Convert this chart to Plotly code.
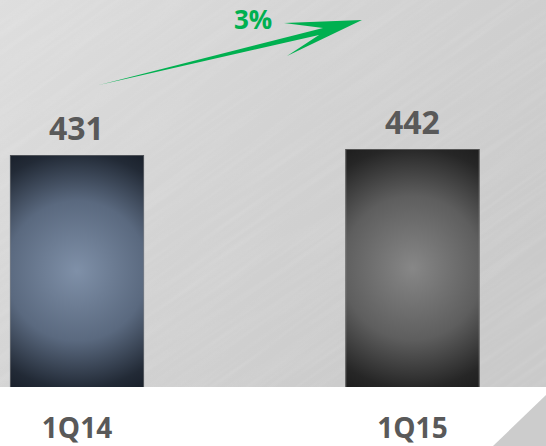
import base64
import plotly.graph_objects as go

# Quarterly figures
quarters = ["1Q14", "1Q15"]
values = [431, 442]
bar_centers = ["#7f90a8", "#878787"]
bar_edges = ["#161c26", "#1b1b1b"]
bar_mids = ["#5a697f", "#5e5e5e"]
bar_dark = ["#222a36", "#262626"]

growth = (values[1] - values[0]) / values[0]
growth_text = f"{growth:.0%}"

W, H = 546, 446
BOTTOM = 59
BAR_W = 0.4


def svg_uri(svg):
    return "data:image/svg+xml;base64," + base64.b64encode(svg.encode()).decode()


# Brushed-metal backdrop for the plotting area
metal = svg_uri(f"""<svg xmlns='http://www.w3.org/2000/svg' width='{W}' height='{H - BOTTOM}' viewBox='0 0 {W} {H - BOTTOM}' preserveAspectRatio='none'>
<defs>
<linearGradient id='g' x1='0' y1='0' x2='1' y2='0.6'>
<stop offset='0' stop-color='#dedede'/><stop offset='0.5' stop-color='#d3d3d3'/><stop offset='1' stop-color='#cacaca'/>
</linearGradient>
<filter id='f' x='0' y='0' width='100%' height='100%'>
<feTurbulence type='fractalNoise' baseFrequency='0.008 0.2' numOctaves='2' seed='3'/>
<feColorMatrix type='matrix' values='0 0 0 0 1  0 0 0 0 1  0 0 0 0 1  0.9 0 0 0 -0.35'/>
</filter>
</defs>
<rect width='100%' height='100%' fill='url(#g)'/>
<g transform='rotate(-35 {W / 2} {(H - BOTTOM) / 2})' opacity='0.2'>
<rect x='-300' y='-300' width='{W + 600}' height='{H + 600}' filter='url(#f)'/>
</g>
</svg>""")


def bar_fill(center, mid, dark, edge):
    return svg_uri(f"""<svg xmlns='http://www.w3.org/2000/svg' width='134' height='232' viewBox='0 0 134 232' preserveAspectRatio='none'>
<defs><radialGradient id='r' gradientUnits='userSpaceOnUse' cx='67' cy='116' r='140'>
<stop offset='0' stop-color='{center}'/><stop offset='0.5' stop-color='{mid}'/>
<stop offset='0.84' stop-color='{dark}'/><stop offset='1' stop-color='{edge}'/>
</radialGradient></defs>
<rect width='134' height='232' fill='url(#r)'/>
<rect x='0.5' y='0.5' width='133' height='240' fill='none' stroke='#8a8a8a' stroke-opacity='0.5' stroke-width='1'/>
</svg>""")


xs = list(range(len(quarters)))
x_lo, x_hi = -0.2295, 1.398
y_hi = 718.7

fig = go.Figure()
fig.add_trace(go.Bar(
    x=xs, y=values, width=BAR_W,
    marker=dict(color=bar_mids, line=dict(width=0)),
    hoverinfo="skip", showlegend=False,
))

images = [dict(source=metal, xref="paper", yref="paper", x=0, y=1, sizex=1, sizey=1,
               xanchor="left", yanchor="top", sizing="stretch", layer="below")]
for i, v in enumerate(values):
    images.append(dict(source=bar_fill(bar_centers[i], bar_mids[i], bar_dark[i], bar_edges[i]),
                       xref="x", yref="y", x=xs[i] - BAR_W / 2, y=v, sizex=BAR_W, sizey=v,
                       xanchor="left", yanchor="top", sizing="stretch", layer="above"))

annotations = []
for i, v in enumerate(values):
    annotations.append(dict(x=xs[i], y=v, xref="x", yref="y", text=str(v), showarrow=False,
                            yanchor="bottom", yshift=4,
                            font=dict(family="Open Sans", size=32, color="#595959", weight="bold")))


def px(x, y):
    return x / W, (H - BOTTOM - y) / (H - BOTTOM)


# Growth arrow drawn in page pixels
pts = [(99, 85), (323, 28), (284, 23), (362, 20), (287, 56), (319, 35)]
path = "M " + " L ".join(f"{px(a, b)[0]:.4f},{px(a, b)[1]:.4f}" for a, b in pts) + " Z"
tx, ty = px(253, 19)
annotations.append(dict(x=tx, y=ty, xref="paper", yref="paper", text=growth_text, showarrow=False,
                        xanchor="center", yanchor="middle",
                        font=dict(family="Open Sans", size=26, color="#00b050", weight="bold")))

# Folded page corner
c = [px(493, 446), px(546, 395), px(546, 446)]
corner = "M " + " L ".join(f"{a:.4f},{b:.4f}" for a, b in c) + " Z"

fig.update_layout(
    width=W, height=H,
    margin=dict(l=0, r=0, t=0, b=BOTTOM),
    paper_bgcolor="white", plot_bgcolor="#d3d3d3",
    images=images,
    annotations=annotations,
    shapes=[
        dict(type="path", path=path, xref="paper", yref="paper", fillcolor="#00b050", line=dict(width=0)),
        dict(type="path", path=corner, xref="paper", yref="paper", fillcolor="#cccccc", line=dict(width=0)),
    ],
    xaxis=dict(range=[x_lo, x_hi], tickmode="array", tickvals=xs, ticktext=quarters,
               showgrid=False, zeroline=False, showline=False, ticks="",
               ticklabelstandoff=22,
               tickfont=dict(family="Open Sans", size=28, color="#595959", weight="bold")),
    yaxis=dict(range=[0, y_hi], visible=False, showgrid=False, zeroline=False),
    showlegend=False,
)

fig.write_html("out.html", config={"displayModeBar": False})
